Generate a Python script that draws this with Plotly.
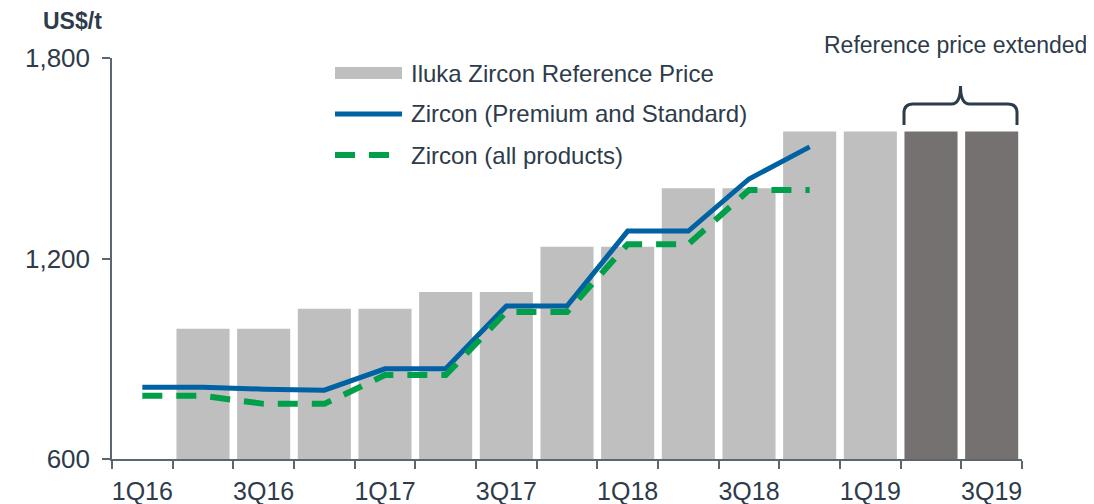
import plotly.graph_objects as go

quarters = ["1Q16", "2Q16", "3Q16", "4Q16", "1Q17", "2Q17", "3Q17", "4Q17",
            "1Q18", "2Q18", "3Q18", "4Q18", "1Q19", "2Q19", "3Q19"]
reference_price = [None, 990, 990, 1050, 1050, 1100, 1100, 1235, 1235,
                   1410, 1410, 1580, 1580, 1580, 1580]
extended = [False] * 13 + [True, True]
zircon_prem_std = [815, 815, 809, 806, 870, 870, 1058, 1058, 1282, 1282, 1438, 1534]
zircon_all = [789, 789, 765, 765, 851, 851, 1040, 1040, 1243, 1243, 1405, 1405]
tick_labels = quarters[::2]

TEXT = "#2E3B4A"
AXIS = "#5B6670"
GREY = "#BFBFBF"
DARK = "#767171"
BLUE = "#0062A3"
GREEN = "#00A04A"
FONT = "Liberation Sans, Arial, sans-serif"

idx = list(range(len(quarters)))

fig = go.Figure()
fig.add_trace(go.Bar(
    x=idx, y=[None if v is None else v - 600 for v in reference_price], base=600,
    width=0.875,
    marker=dict(color=[DARK if e else GREY for e in extended], line=dict(width=0)),
    hoverinfo="skip",
))
fig.add_trace(go.Scatter(
    x=idx[:len(zircon_prem_std)], y=zircon_prem_std, mode="lines",
    line=dict(color=BLUE, width=5),
))
fig.add_trace(go.Scatter(
    x=idx[:len(zircon_all)], y=zircon_all, mode="lines",
    line=dict(color=GREEN, width=6, dash="20px,14px"),
))

# hand-drawn legend (paper coords; plot area is 910 x 401 px, at x=112, bottom y=459 on the page)
def px(x):
    return (x - 112) / 910

def py(y):
    return (459 - y) / 401

shapes = [
    dict(type="rect", xref="paper", yref="paper", x0=px(335), x1=px(402), y0=py(79), y1=py(67),
         fillcolor=GREY, line=dict(width=0)),
    dict(type="line", xref="paper", yref="paper", x0=px(335), x1=px(402), y0=py(114), y1=py(114),
         line=dict(color=BLUE, width=5)),
    dict(type="line", xref="paper", yref="paper", x0=px(335), x1=px(392), y0=py(155), y1=py(155),
         line=dict(color=GREEN, width=6, dash="20px,14px")),
]

# brace over the extended bars
x0, xc, x1 = px(904), px(960.5), px(1017)
yb, yh, yt = py(125), py(104), py(86)
rx, ry = 9 / 910, 9 / 401
brace = (f"M{x0},{yb} L{x0},{yh - ry} Q{x0},{yh} {x0 + rx},{yh} "
         f"L{xc - rx},{yh} Q{xc},{yh} {xc},{yt} "
         f"Q{xc},{yh} {xc + rx},{yh} L{x1 - rx},{yh} Q{x1},{yh} {x1},{yh - ry} L{x1},{yb}")
shapes.append(dict(type="path", xref="paper", yref="paper", path=brace,
                   line=dict(color=TEXT, width=3)))

legend_items = ["Iluka Zircon Reference Price", "Zircon (Premium and Standard)", "Zircon (all products)"]
annotations = [
    dict(text=t, x=px(409), y=py(yy), xref="paper", yref="paper", xanchor="left", yanchor="middle",
         showarrow=False, font=dict(size=24, color=TEXT, family=FONT))
    for t, yy in zip(legend_items, [73, 114, 155])
]
annotations.append(dict(text="Reference price extended", x=px(1089), y=py(45), xref="paper", yref="paper",
                        xanchor="right", yanchor="middle", showarrow=False,
                        font=dict(size=23, color=TEXT, family=FONT)))
annotations.append(dict(text="<b>US$/t</b>", x=px(72), y=py(21), xref="paper", yref="paper",
                        xanchor="center", yanchor="middle", showarrow=False,
                        font=dict(size=23, color=TEXT, family=FONT)))

# the page body has an 8px margin, so the figure is shrunk by 8px and margins shifted
fig.update_layout(
    width=1086, height=496,
    margin=dict(l=104, r=72, t=50, b=45),
    paper_bgcolor="white", plot_bgcolor="white",
    showlegend=False,
    shapes=shapes, annotations=annotations,
    font=dict(family=FONT, color=TEXT, size=24),
    xaxis=dict(
        range=[-0.5, 14.5], showgrid=False, zeroline=False, automargin=False,
        showline=True, linecolor=AXIS, linewidth=1.5,
        tickmode="array", tickvals=idx[::2], ticktext=tick_labels, ticks="",
        tickfont=dict(size=25, color=TEXT), ticklabelstandoff=9,
        minor=dict(tickmode="array", tickvals=[i - 0.5 for i in range(len(quarters) + 1)],
                   ticks="outside", ticklen=8, tickcolor=AXIS, tickwidth=1.5),
    ),
    yaxis=dict(
        range=[600, 1800], showgrid=False, zeroline=False, automargin=False,
        showline=True, linecolor=AXIS, linewidth=1.5,
        tickvals=[600, 1200, 1800], tickformat=",", ticks="outside", ticklen=8,
        tickcolor=AXIS, tickwidth=1.5, tickfont=dict(size=26, color=TEXT),
        ticklabelstandoff=7,
    ),
)

fig.write_html("out.html")
